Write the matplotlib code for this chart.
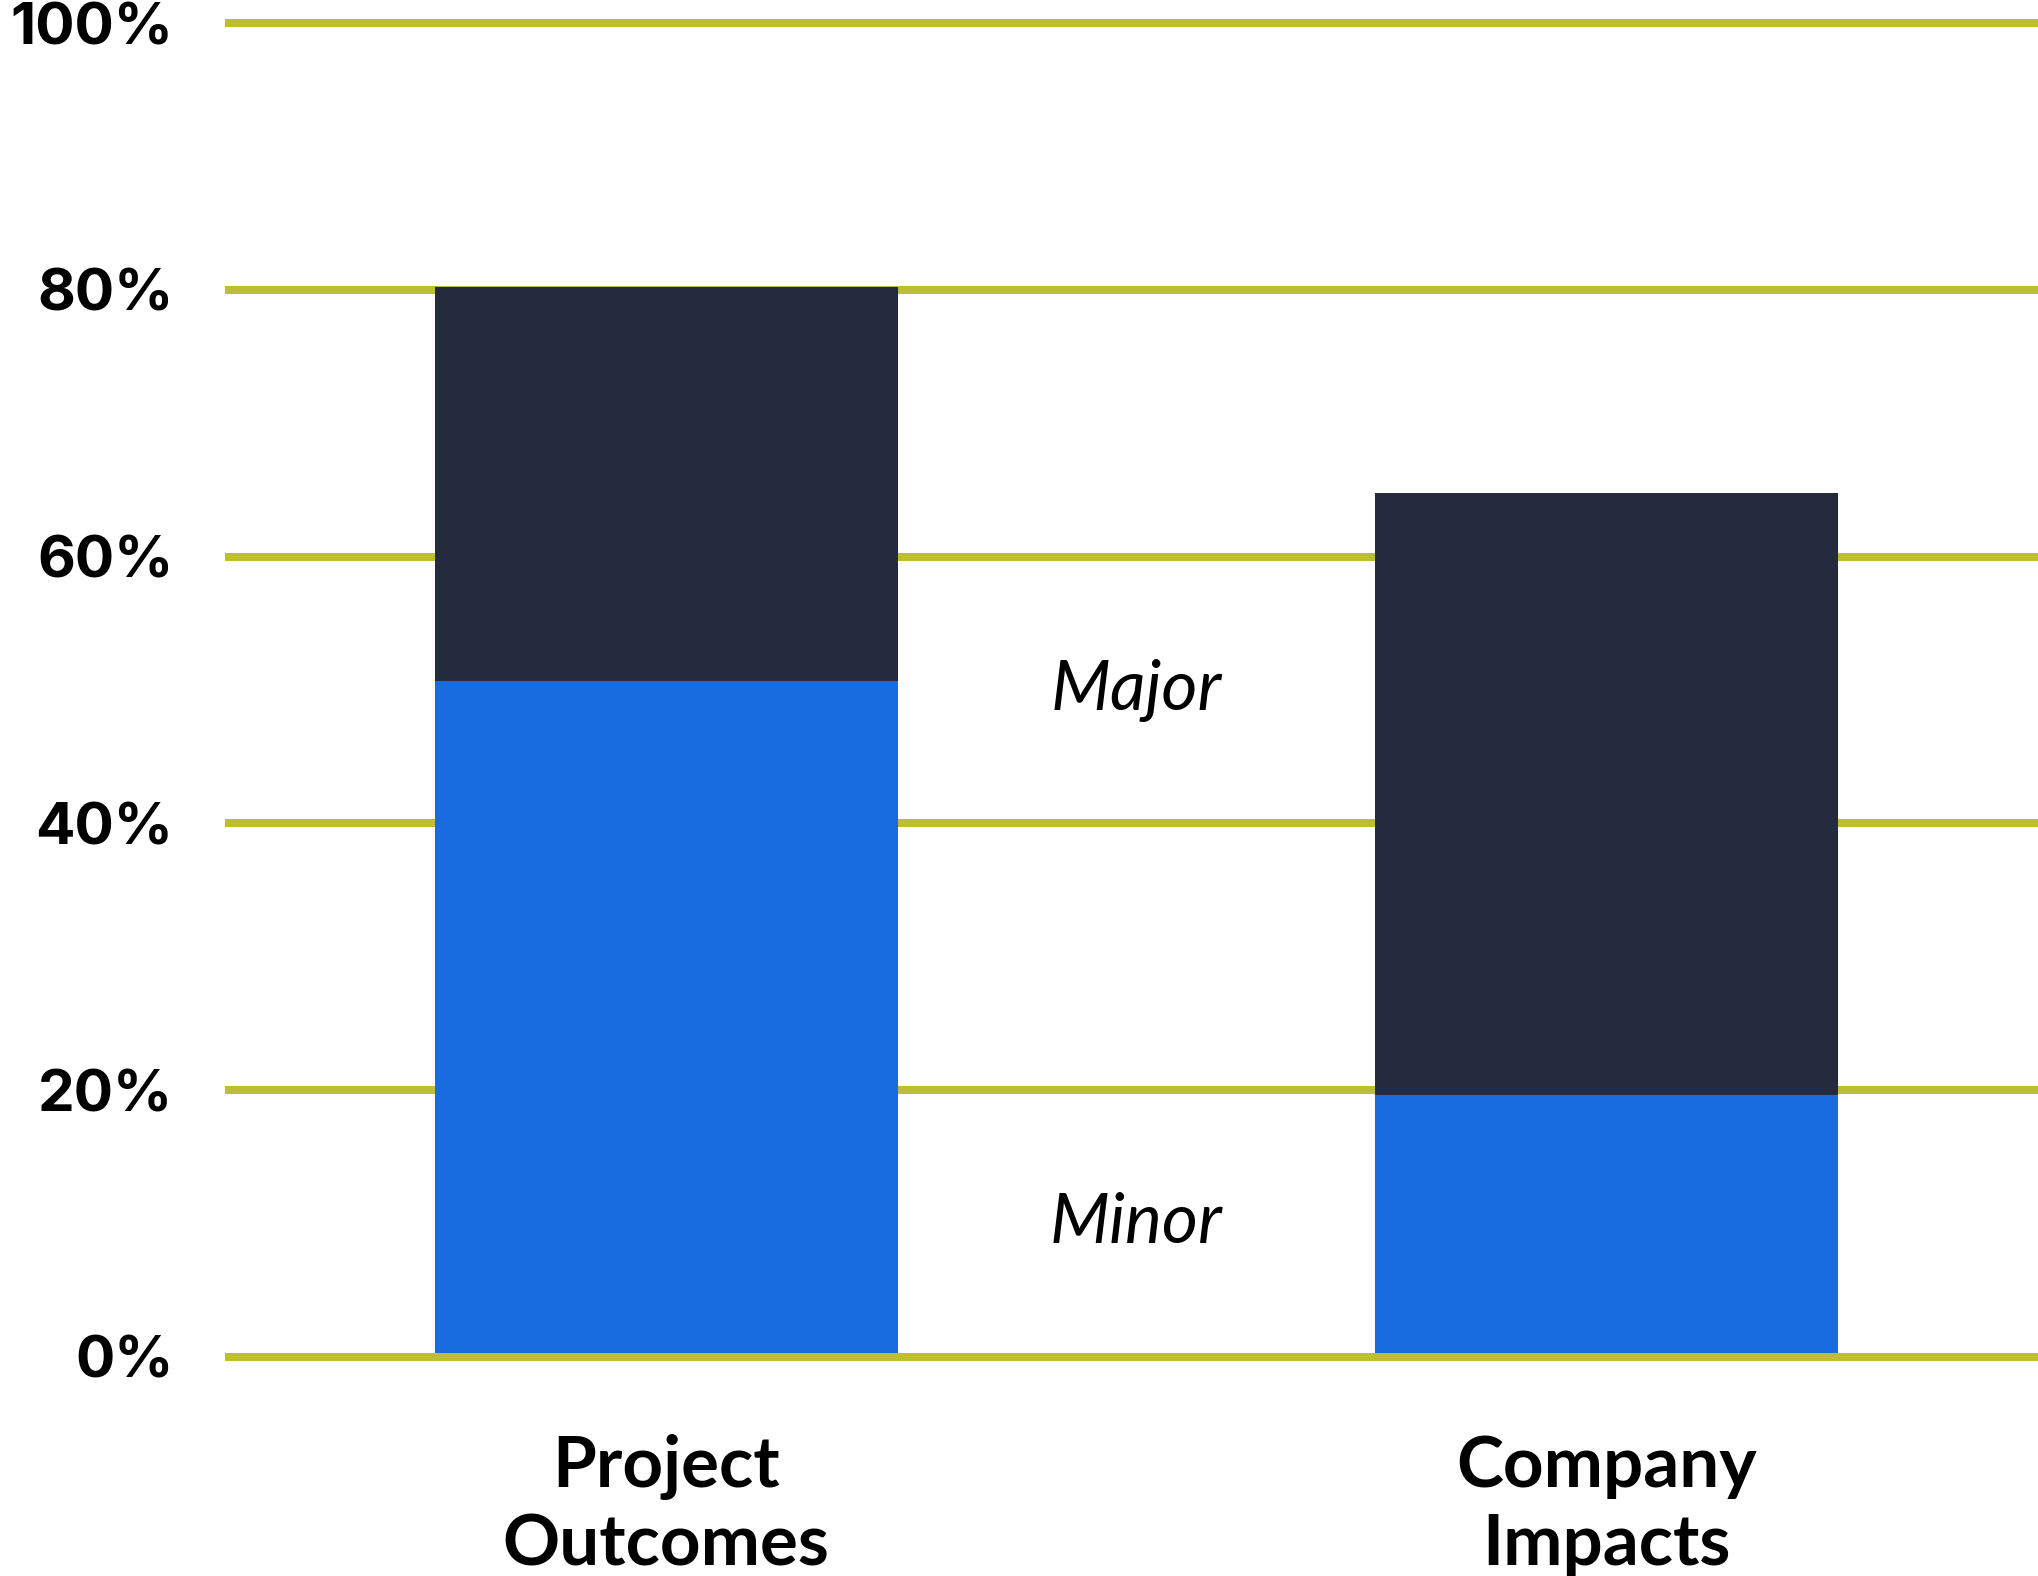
import matplotlib
matplotlib.use("Agg")
import matplotlib.pyplot as plt
import numpy as np

categories = ["Project\nOutcomes", "Company\nImpacts"]
minor = [50.7, 19.6]
major = [29.5, 45.2]
yticks = [0, 20, 40, 60, 80, 100]
ytick_labels = ["0%", "20%", "40%", "60%", "80%", "100%"]
series_labels = ["Minor", "Major"]
label_y = [10, 50]

BLUE = "#196CE0"
DARK = "#252B3E"
GRID = "#BEBE32"

fig = plt.figure(figsize=(20.38, 15.76), dpi=100)
ax = fig.add_axes([229/2038, 1-1356.7/1576, 1-229/2038, (1356.7-23.3)/1576])

x = np.arange(len(categories))
w = 0.4926
ax.bar(x, minor, width=w, color=BLUE, zorder=2, linewidth=0)
ax.bar(x, major, width=w, bottom=minor, color=DARK, zorder=2, linewidth=0)

for t in yticks:
    ax.axhline(t, color=GRID, lw=5.76, zorder=3 if t == 0 else 1, clip_on=False)

ax.set_xlim(-0.465, 1.459)
ax.set_ylim(0, 100)
for s in ax.spines.values():
    s.set_visible(False)

ax.set_yticks(yticks)
ax.set_yticklabels(ytick_labels, fontfamily="Inter", fontweight="bold", fontsize=42)
ax.tick_params(axis="y", length=0, pad=40)
ax.set_xticks(x)
ax.set_xticklabels(categories, fontfamily="Lato", fontweight="bold", fontsize=51, linespacing=1.23)
ax.tick_params(axis="x", length=0, pad=56)

for lbl, yy in zip(series_labels, label_y):
    ax.text(0.5, yy, lbl, ha="center", va="center", fontfamily="Lato", fontstyle="italic", fontsize=50)

fig.savefig("out.png", dpi=100)
